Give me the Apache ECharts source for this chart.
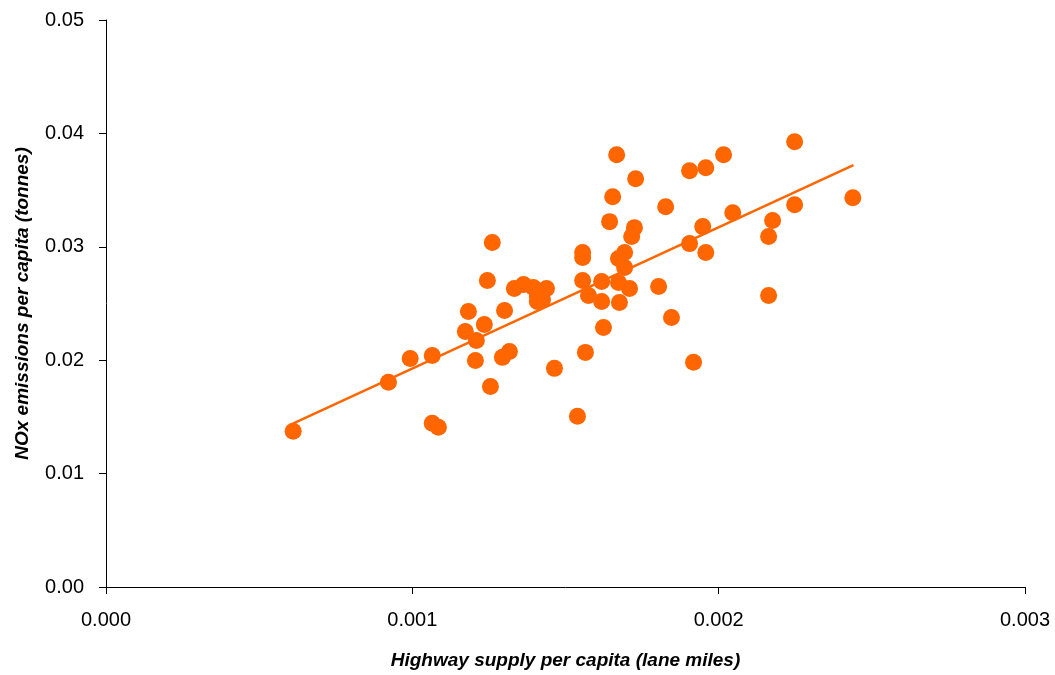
<!DOCTYPE html>
<html>
<head>
<meta charset="utf-8">
<script src="https://cdn.jsdelivr.net/npm/echarts@6/dist/echarts.min.js"></script>
<style>html,body{margin:0;padding:0;background:#fff}#c{width:1055px;height:675px}</style>
</head>
<body>
<div id="c"></div>
<script>
var highwaySupply = [0.000611,0.000922,0.000993,0.001065,0.001065,0.001085,0.001173,0.001183,0.001209,0.001206,
0.001235,0.001245,0.001255,0.001261,0.001301,0.001294,0.001317,0.001333,0.001363,0.001395,
0.001408,0.001408,0.001425,0.001438,0.001464,0.001539,0.001556,0.001556,0.001556,0.001565,
0.001575,0.001618,0.001618,0.001624,0.001644,0.001654,0.001667,0.001673,0.001676,0.001673,
0.001693,0.001693,0.001709,0.001716,0.001725,0.001729,0.001804,0.001827,0.001846,0.001905,
0.001905,0.001918,0.001948,0.001958,0.001958,0.002016,0.002046,0.002163,0.002163,0.002176,
0.002248,0.002248,0.002438];
var noxEmissions = [0.01373,0.01805,0.02016,0.02042,0.01444,0.01408,0.02254,0.02430,0.02174,0.01998,
0.02315,0.02702,0.01769,0.03037,0.02438,0.02025,0.02077,0.02632,0.02667,0.02641,
0.02562,0.02518,0.02535,0.02632,0.01928,0.01505,0.02949,0.02905,0.02702,0.02069,
0.02570,0.02694,0.02518,0.02289,0.03222,0.03442,0.03812,0.02896,0.02509,0.02685,
0.02817,0.02949,0.02632,0.03090,0.03169,0.03600,0.02650,0.03354,0.02377,0.03671,
0.03028,0.01981,0.03178,0.03697,0.02949,0.03812,0.03301,0.03090,0.02570,0.03231,
0.03926,0.03371,0.03433];
var trendX = [0.00061, 0.00244];
var trendY = [0.0144, 0.0372];
var xTitle = 'Highway supply per capita (lane miles)';
var yTitle = 'NOx emissions per capita (tonnes)';

var pts = highwaySupply.map(function(x, i){ return [x, noxEmissions[i]]; });
var trend = trendX.map(function(x, i){ return [x, trendY[i]]; });
var ORANGE = '#FF6600';
var FONT = '"Liberation Sans", Arial, sans-serif';

var chart = echarts.init(document.getElementById('c'), null, {renderer:'canvas'});
chart.setOption({
  animation: false,
  backgroundColor: '#fff',
  grid: {left: 106, right: 30, top: 20, bottom: 87, containLabel: false},
  xAxis: {
    type: 'value', min: 0, max: 0.003, interval: 0.001,
    name: xTitle, nameLocation: 'middle', nameGap: 64,
    nameTextStyle: {fontFamily: FONT, fontSize: 19, fontWeight: 'bold', fontStyle: 'italic', color: '#000'},
    axisLine: {show: true, onZero: false, lineStyle: {color: '#000', width: 1}},
    axisTick: {show: true, inside: false, length: 7, lineStyle: {color: '#000'}},
    axisLabel: {fontFamily: FONT, fontSize: 20, color: '#000', margin: 23,
      formatter: function(v){ return v.toFixed(3); }},
    splitLine: {show: false}
  },
  yAxis: {
    type: 'value', min: 0, max: 0.05, interval: 0.01,
    name: yTitle, nameLocation: 'middle', nameGap: 74, nameRotate: 90,
    nameTextStyle: {fontFamily: FONT, fontSize: 19, fontWeight: 'bold', fontStyle: 'italic', color: '#000'},
    axisLine: {show: true, onZero: false, lineStyle: {color: '#000', width: 1}},
    axisTick: {show: true, inside: false, length: 7, lineStyle: {color: '#000'}},
    axisLabel: {fontFamily: FONT, fontSize: 20, color: '#000', margin: 22,
      formatter: function(v){ return v.toFixed(2); }},
    splitLine: {show: false}
  },
  series: [
    {type: 'scatter', data: pts, symbol: 'circle', symbolSize: 17,
      itemStyle: {color: ORANGE, opacity: 1}, z: 2},
    {type: 'line', data: trend, showSymbol: false, symbol: 'none',
      lineStyle: {color: ORANGE, width: 2.5}, z: 3, silent: true}
  ]
});
</script>
</body>
</html>
